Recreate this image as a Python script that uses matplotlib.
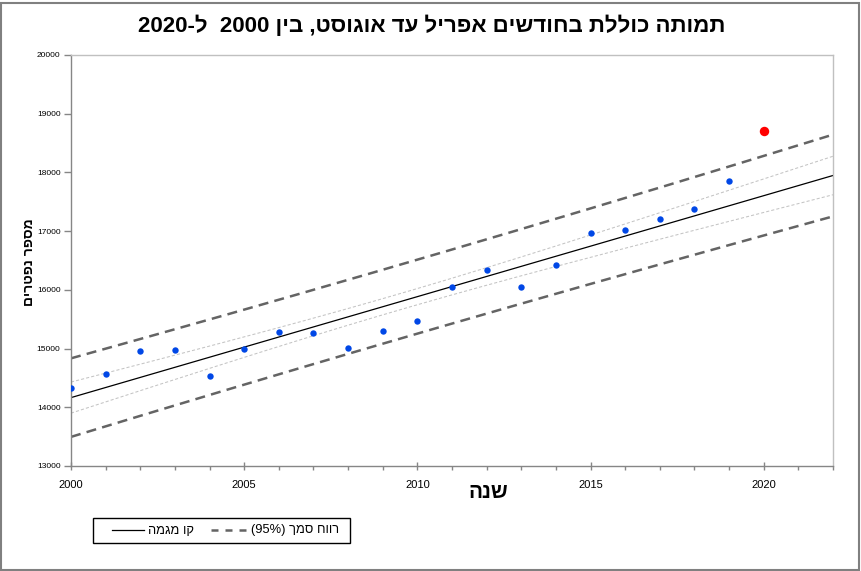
import numpy as np
import matplotlib
matplotlib.use("Agg")
import matplotlib.pyplot as plt
from matplotlib.lines import Line2D
from matplotlib.patches import Rectangle
from matplotlib.ticker import MultipleLocator

plt.rcParams['font.family'] = ['Liberation Sans', 'DejaVu Sans']

# ---- data ----
years = [2000, 2001, 2002, 2003, 2004, 2005, 2006, 2007, 2008, 2009,
         2010, 2011, 2012, 2013, 2014, 2015, 2016, 2017, 2018, 2019]
deaths = [14333, 14567, 14958, 14975, 14532, 14992, 15282, 15265, 15009, 15299,
          15469, 16048, 16338, 16053, 16423, 16968, 17019, 17207, 17377, 17854]
year_2020 = [2020]
deaths_2020 = [18706]

title_txt = "תמותה כוללת בחודשים אפריל עד אוגוסט, בין 2000  ל-2020"
ylabel_txt = "מספר נפטרים"
xlabel_txt = "שנה"
legend_trend = "קו מגמה"
legend_band = "רווח סמך (95%)"
x_ticks = [2000, 2005, 2010, 2015, 2020]
y_ticks = [13000, 14000, 15000, 16000, 17000, 18000, 19000, 20000]


def visual(s):
    """Convert logical-order RTL text to visual order (simple bidi)."""
    runs = []
    cur = ''
    cur_digit = None
    for ch in s:
        d = ch.isdigit() or ch == '%'
        if cur_digit is None or d == cur_digit:
            cur += ch
        else:
            runs.append((cur, cur_digit))
            cur = ch
        cur_digit = d
    if cur:
        runs.append((cur, cur_digit))
    mirror = {'(': ')', ')': '('}
    out = []
    for text, is_d in reversed(runs):
        if is_d:
            out.append(text)
        else:
            out.append(''.join(mirror.get(c, c) for c in reversed(text)))
    return ''.join(out)


# ---- regression ----
x = np.array(years, dtype=float)
y = np.array(deaths, dtype=float)
n = len(x)
b, a = np.polyfit(x, y, 1)
resid = y - (a + b * x)
s = np.sqrt(np.sum(resid ** 2) / (n - 2))
xm = x.mean()
sxx = np.sum((x - xm) ** 2)
t = 2.1009  # t(0.975, 18)
xg = np.linspace(2000, 2022, 200)
yg = a + b * xg
ci = t * s * np.sqrt(1.0 / n + (xg - xm) ** 2 / sxx)
pi = t * s * np.sqrt(1 + 1.0 / n + (xg - xm) ** 2 / sxx)

# ---- figure ----
W, H = 862, 571
fig = plt.figure(figsize=(W / 100, H / 100), dpi=100)
ax = fig.add_axes([71 / W, 1 - 466 / H, (833 - 71) / W, (466 - 55) / H])

pred_kw = dict(color='#646464', lw=1.8, dashes=(4, 2.5), solid_capstyle='butt', dash_capstyle='butt')
conf_kw = dict(color='#c4c4c4', lw=0.75, dashes=(3, 2))
ax.plot(xg, yg + pi, **pred_kw)
ax.plot(xg, yg - pi, **pred_kw)
ax.plot(xg, yg + ci, **conf_kw)
ax.plot(xg, yg - ci, **conf_kw)
ax.plot(xg, yg, color='black', lw=0.9)
ax.plot(years, deaths, 'o', color='#0047e6', ms=4.6, mec='none', zorder=5)
ax.plot(year_2020, deaths_2020, 'o', color='#ff0000', ms=6.8, mec='none', zorder=5)

ax.set_xlim(2000, 2022)
ax.set_ylim(13000, 20000)
ax.set_xticks(x_ticks)
ax.set_xticklabels([str(v) for v in x_ticks])
ax.xaxis.set_minor_locator(MultipleLocator(1))
ax.set_yticks(y_ticks)
ax.set_yticklabels([str(v) for v in y_ticks])

for side in ['left', 'bottom']:
    ax.spines[side].set_color('#868686')
    ax.spines[side].set_linewidth(1.0)
for side in ['top', 'right']:
    ax.spines[side].set_color('#c0c0c0')
    ax.spines[side].set_linewidth(1.0)

ax.tick_params(axis='x', which='major', direction='inout', length=6, width=1,
               color='#868686', labelsize=8, pad=7)
ax.tick_params(axis='x', which='minor', direction='out', length=3, width=1, color='#868686')
ax.tick_params(axis='y', which='major', direction='out', length=5, width=1,
               color='#868686', labelsize=6, pad=2.5)

fig.text(432 / W, 1 - 26 / H, visual(title_txt), ha='center', va='center',
         fontsize=16, fontweight='bold')
fig.text(29 / W, 1 - 262 / H, visual(ylabel_txt), ha='center', va='center',
         rotation=90, fontsize=10, fontweight='bold')
fig.text(488 / W, 1 - 493 / H, visual(xlabel_txt), ha='center', va='center',
         fontsize=15, fontweight='bold')

# ---- legend (drawn manually in figure pixels) ----
def fx(px):
    return px / W


def fy(py):
    return 1 - py / H


fig.patches.append(Rectangle((fx(93), fy(543)), (350 - 93) / W, (543 - 518) / H,
                             transform=fig.transFigure, fill=False,
                             edgecolor='black', lw=1.0))
fig.lines.append(Line2D([fx(112), fx(144)], [fy(530), fy(530)],
                        transform=fig.transFigure, color='black', lw=0.9))
fig.text(fx(148), fy(530.5), visual(legend_trend), ha='left', va='center', fontsize=9.3)
fig.lines.append(Line2D([fx(211), fx(248)], [fy(530), fy(530)],
                        transform=fig.transFigure, color='#646464', lw=1.8,
                        dashes=(2.8, 2.8), dash_capstyle='butt'))
fig.text(fx(251), fy(530.5), visual(legend_band), ha='left', va='center', fontsize=9.3)

fig.patches.append(Rectangle((1.5 / W, 1.5 / H), 1 - 4 / W, 1 - 4 / H,
                             transform=fig.transFigure, fill=False,
                             edgecolor='#808080', lw=1.5))

fig.savefig('out.png', dpi=100)
